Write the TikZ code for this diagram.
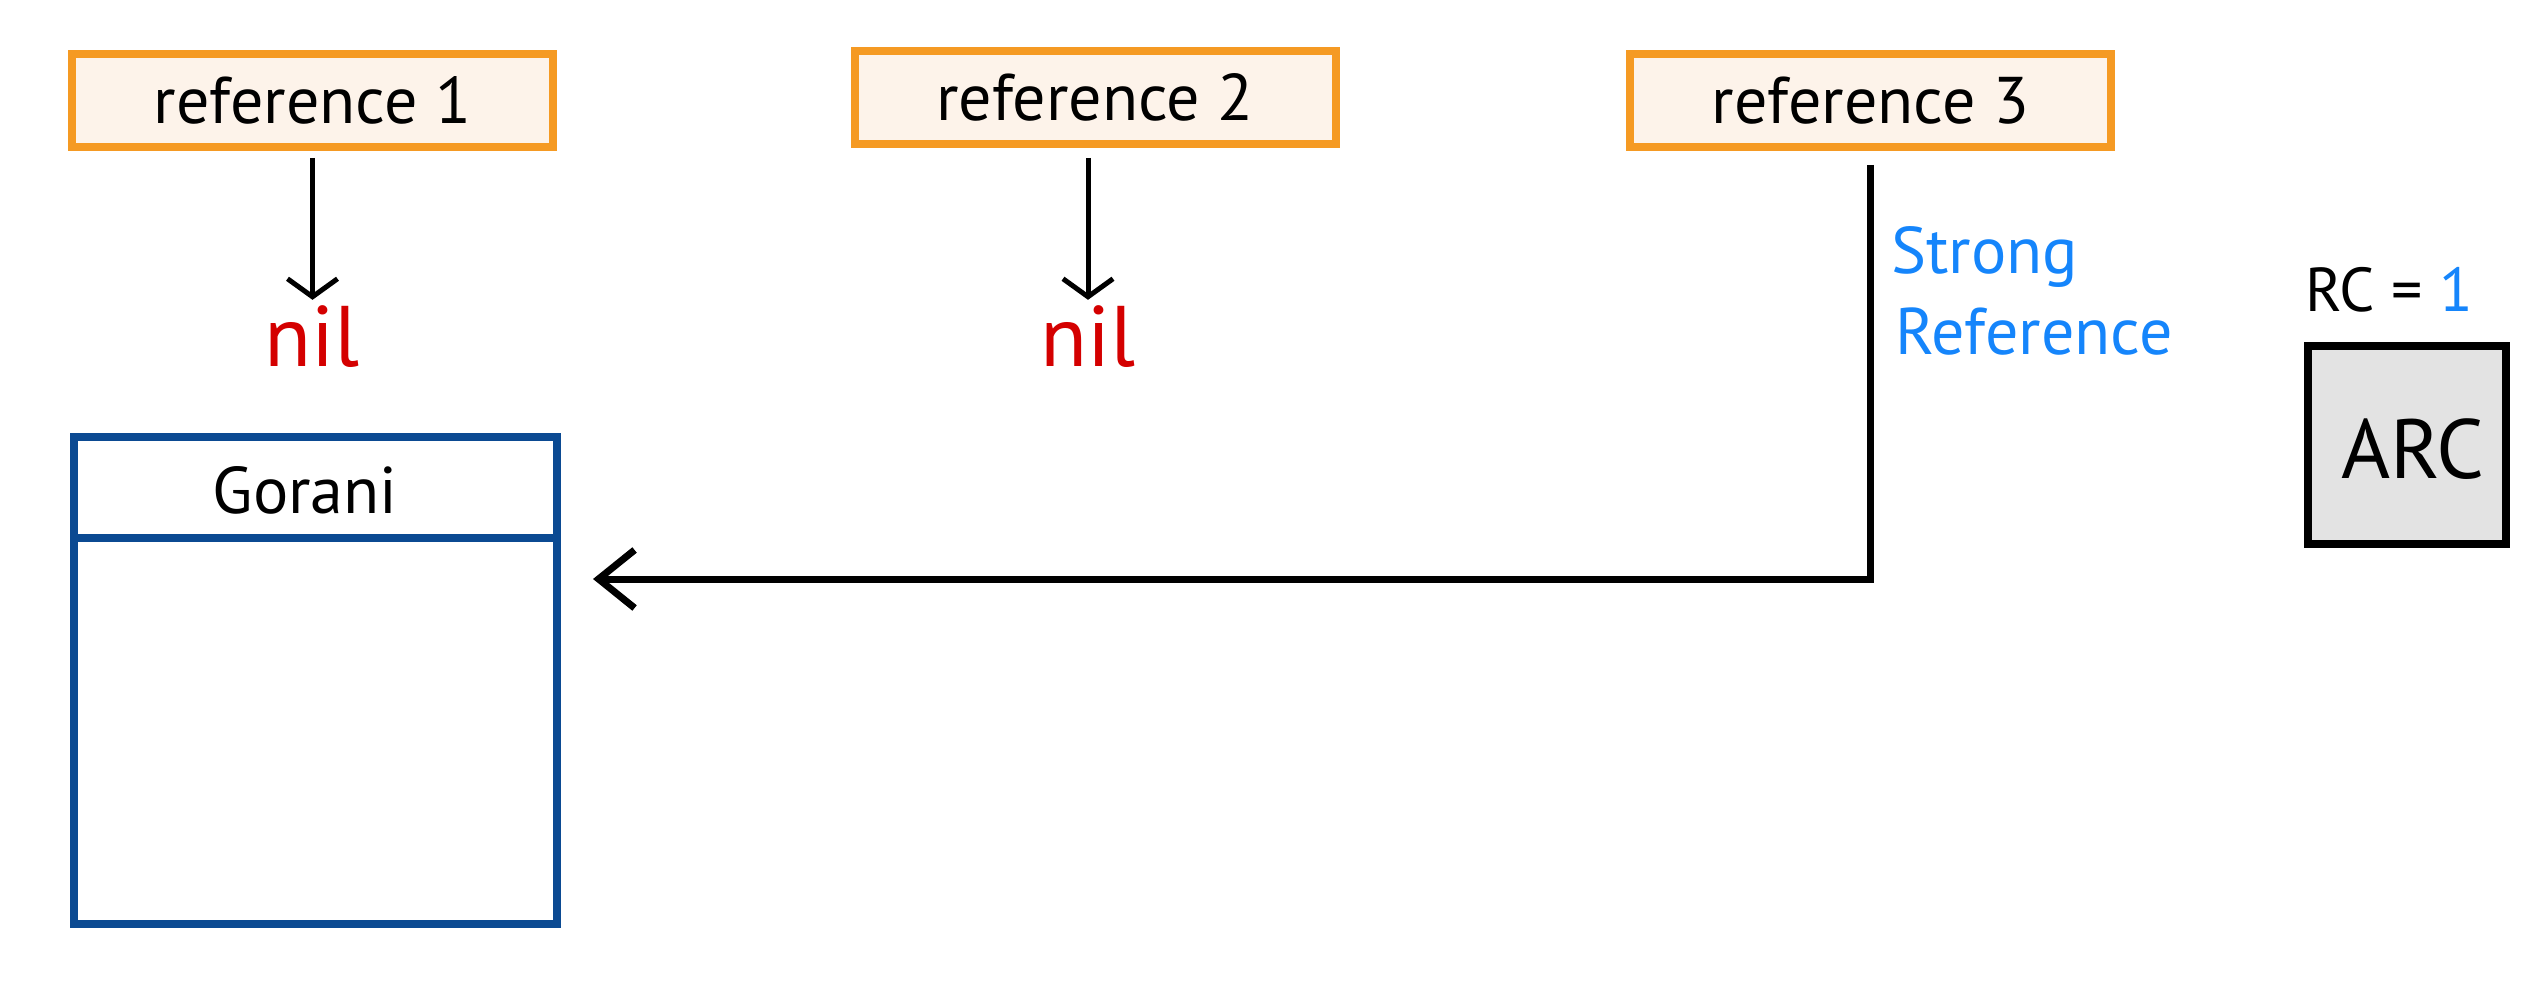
\documentclass[tikz,border=0pt]{standalone}
\usepackage{fontspec}
\setmainfont{PT Sans}
\usetikzlibrary{arrows.meta}
\definecolor{refor}{HTML}{F59A23}
\definecolor{refbg}{HTML}{FDF3EA}
\definecolor{objblue}{HTML}{0B4A92}
\definecolor{nilred}{HTML}{D40000}
\definecolor{strongblue}{HTML}{1585FB}
\definecolor{arcgray}{HTML}{E3E3E3}
\tikzset{
  refbox/.style={draw=refor, fill=refbg, line width=8pt, minimum width=481pt, minimum height=93pt, inner sep=0pt, font=\fontsize{66}{76}\selectfont},
  niltext/.style={text=nilred, inner sep=0pt, font=\fontsize{86}{96}\selectfont},
  thinarrow/.style={line width=5pt, -{Straight Barb[length=18pt,width=50pt,line width=5pt]}},
  strongarrow/.style={line width=7pt, -{Straight Barb[length=36pt,width=58pt,line width=7pt]}},
  bluetext/.style={text=strongblue, font=\fontsize{66}{76}\selectfont, anchor=base west, inner sep=0pt},
}
\begin{document}
\begin{tikzpicture}[x=1pt,y=1pt]
\useasboundingbox (0,0) rectangle (2548,-1000);
% reference boxes
\node[refbox] (r1) at (312.5,-100.5) {reference 1};
\node[refbox] (r2) at (1095,-97.5) {reference 2};
\node[refbox] (r3) at (1870.5,-100.5) {reference 3};
% nil texts
\node[niltext] (n1) at (312.5,-337) {nil};
\node[niltext] (n2) at (1088,-337) {nil};
\draw[thinarrow, shorten <=7pt] (r1.south) -- ([yshift=6pt]n1.north);
\draw[thinarrow, shorten <=10pt] (n2.north |- r2.south) -- ([yshift=6pt]n2.north);
% Gorani object
\node[draw=objblue, line width=8pt, minimum width=483pt, minimum height=487pt, inner sep=0pt] (g) at (315.5,-680.5) {};
\draw[objblue, line width=8pt] (g.north west |- 0,-538) -- (g.north east |- 0,-538);
\node[font=\fontsize{66}{74}\selectfont, inner sep=0pt] (gt) at (305,-490) {Gorani};
% strong reference
\coordinate (tip) at (593,-579);
\draw[strongarrow, shorten <=14pt] (r3.south) |- (tip);
\node[bluetext] (s1) at (1891,-273) {Strong};
\node[bluetext] (s2) at (1895,-354) {Reference};
% ARC
\node[font=\fontsize{62}{72}\selectfont, inner sep=0pt] (rc) at (2389,-290) {RC = \textcolor{strongblue}{1}};
\node[draw=black, fill=arcgray, line width=8pt, minimum width=198pt, minimum height=198pt, inner sep=0pt] (arc) at (2407,-445) {};
\node[font=\fontsize{84}{92}\selectfont, inner sep=0pt] (arct) at (2413,-449) {ARC};
\end{tikzpicture}
\end{document}
